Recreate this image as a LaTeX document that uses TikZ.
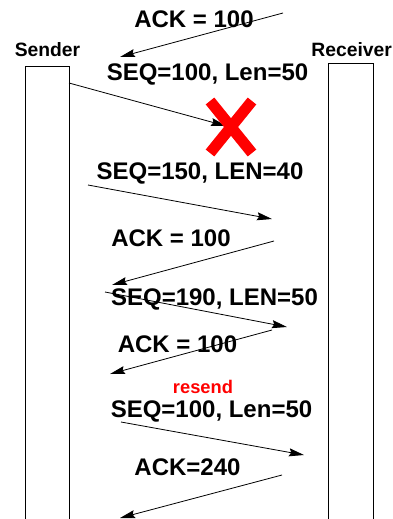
\documentclass[tikz,border=0pt]{standalone}
\usepackage{fontspec}
\setmainfont{Liberation Sans}
\usetikzlibrary{arrows.meta}
\begin{document}
\begin{tikzpicture}[x=1pt,y=-1pt,
  msg/.style={draw=black,line width=0.8pt,-{Stealth[length=15pt,width=8pt,inset=2pt]}},
  lbl/.style={anchor=base,inner sep=0pt,font=\fontsize{24}{26}\selectfont\bfseries},
  who/.style={anchor=base,inner sep=0pt,font=\fontsize{19.3}{21}\selectfont\bfseries},
  host/.style={draw=black,line width=0.9pt},
  cross/.style={draw=red,line width=11pt,line cap=butt}]
\clip (0,0) rectangle (392,519);
\fill[white] (0,0) rectangle (392,519);
% hosts
\draw[host] (25,530) -- (25,66) -- (69,66) -- (69,530);
\draw[host] (328,530) -- (328,63) -- (373,63) -- (373,530);
\node[who] (snd) at (47.5,56.7) {Sender};
\node[who] (rcv) at (351.7,56.7) {Receiver};
% endpoints
\coordinate (a1s) at (283,13);  \coordinate (a1e) at (120,57);
\coordinate (a2s) at (69,83);   \coordinate (a2e) at (226,126);
\coordinate (a3s) at (88,185);  \coordinate (a3e) at (272,219);
\coordinate (a4s) at (274,241); \coordinate (a4e) at (112,285);
\coordinate (a5s) at (105,292); \coordinate (a5e) at (287,327);
\coordinate (a6s) at (272,330); \coordinate (a6e) at (110,374);
\coordinate (a7s) at (121,422); \coordinate (a7e) at (304,455);
\coordinate (a8s) at (282,475); \coordinate (a8e) at (120,518);
% labels
\node[lbl] (l1) at (194,28) {ACK = 100};
\node[lbl] (l2) at (207.5,80) {SEQ=100, Len=50};
\node[lbl] (l3) at (200,179) {SEQ=150, LEN=40};
\node[lbl] (l4) at (171,246) {ACK = 100};
\node[lbl] (l5) at (214.5,305) {SEQ=190, LEN=50};
\node[lbl] (l6) at (177.5,352.5) {ACK = 100};
\node[anchor=base,inner sep=0pt,text=red,font=\fontsize{18.3}{20}\selectfont\bfseries] (rs) at (203,393.5) {resend};
\node[lbl] (l7) at (211.5,417.3) {SEQ=100, Len=50};
\node[lbl] (l8) at (187.5,475.5) {ACK=240};
% messages
\draw[msg] (a1s) -- (a1e);
\draw[msg] (a2s) -- (a2e);
\draw[msg] (a3s) -- (a3e);
\draw[msg] (a4s) -- (a4e);
\draw[msg] (a5s) -- (a5e);
\draw[msg] (a6s) -- (a6e);
\draw[msg] (a7s) -- (a7e);
\draw[msg] (a8s) -- (a8e);
% loss mark
\coordinate (x1) at (210,101); \coordinate (x2) at (252,153);
\coordinate (x3) at (252,101); \coordinate (x4) at (210,153);
\draw[cross] (x1) -- (x2);
\draw[cross] (x3) -- (x4);
\end{tikzpicture}
\end{document}
